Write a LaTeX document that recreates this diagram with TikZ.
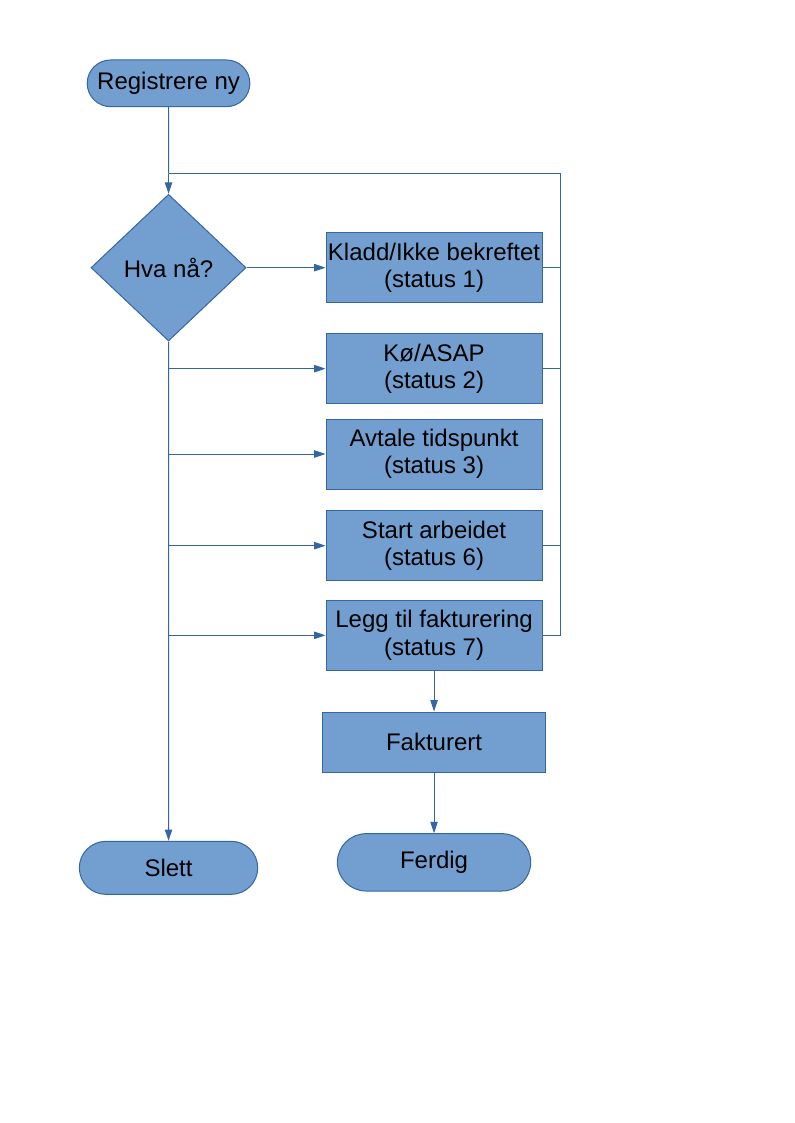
\documentclass[tikz,border=0pt]{standalone}
\usepackage{fontspec}
\setmainfont{Liberation Sans}
\usepackage{tikz}
\usepackage{xcolor}
\usetikzlibrary{arrows.meta,positioning,shapes.geometric,shapes.misc}

\definecolor{boxfill}{HTML}{729FCF}
\definecolor{boxline}{HTML}{3465A4}

\begin{document}
\begin{tikzpicture}[
  font=\fontsize{18pt}{20.5pt}\selectfont,
  box/.style={draw=boxline, fill=boxfill, line width=0.75pt, align=center, inner sep=0pt, minimum width=162pt, minimum height=52.5pt},
  terminal/.style={draw=boxline, fill=boxfill, line width=0.75pt, rounded rectangle, inner sep=0pt},
  choice/.style={draw=boxline, fill=boxfill, line width=0.75pt, diamond, inner sep=0pt, minimum width=116.25pt, minimum height=110pt},
  line/.style={draw=boxline, line width=0.75pt},
  arrow/.style={line, -{Triangle[length=8.5pt, width=5.5pt]}}
]
\useasboundingbox (0,0) rectangle (595.5pt,-842.25pt);

\node[terminal, minimum width=122pt, minimum height=35pt] (reg) at (126.4pt,-62.5pt) {Registrere ny};
\node[choice, below=65pt of reg] (decide) {Hva nå?};
\node[box, right=59.25pt of decide] (kladd) {Kladd/Ikke bekreftet\\(status 1)};
\node[box, below=22.5pt of kladd] (koe) {Kø/ASAP\\(status 2)};
\node[box, below=10.75pt of koe] (avtale) {Avtale tidspunkt\\(status 3)};
\node[box, below=15.5pt of avtale] (start) {Start arbeidet\\(status 6)};
\node[box, below=14pt of start] (legg) {Legg til fakturering\\(status 7)};
\node[box, below=30.5pt of legg, minimum width=167.8pt, minimum height=45.5pt] (fakt) {Fakturert};
\node[terminal, below=45pt of fakt, minimum width=145pt, minimum height=43pt] (ferdig) {Ferdig};
\node[terminal, below=374.5pt of decide, minimum width=133.8pt, minimum height=39.75pt] (slett) {Slett};

\coordinate[above=15.2pt of decide.north] (top);
\coordinate[right=13.75pt of kladd.east] (rail);

\draw[line] (reg) -- (top);
\draw[arrow] (top) -- (decide);
\draw[arrow] (decide) -- (kladd);
\draw[arrow] (decide) -- (slett);
\draw[arrow] (decide.south |- koe) -- (koe);
\draw[arrow] (decide.south |- avtale) -- (avtale);
\draw[arrow] (decide.south |- start) -- (start);
\draw[arrow] (decide.south |- legg) -- (legg);

\draw[line] (legg.east) -| (rail |- top) -- (top);
\draw[line] (kladd.east) -- (rail);
\draw[line] (koe.east) -- (koe.east -| rail);
\draw[line] (start.east) -- (start.east -| rail);

\draw[arrow] (legg) -- (fakt);
\draw[arrow] (fakt) -- (ferdig);
\end{tikzpicture}
\end{document}
